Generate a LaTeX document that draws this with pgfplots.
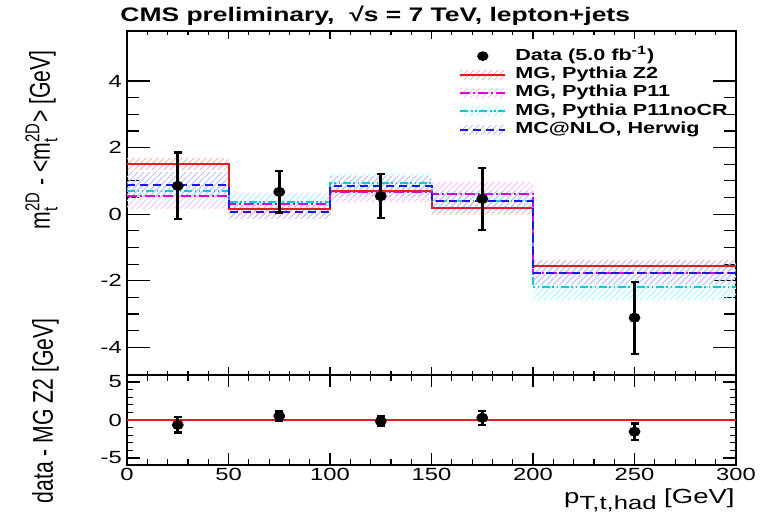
\documentclass[border=0pt]{standalone}
\usepackage{fontspec}
\setmainfont{Liberation Sans}[FakeStretch=1.35]
\newfontfamily\uprightlabel{Liberation Sans}
\usepackage{amsmath}
\usepackage{pgfplots}
\usepackage{pgfplotstable}
\pgfplotsset{compat=1.18}
\usepgfplotslibrary{fillbetween}
\usetikzlibrary{patterns}

\definecolor{rootred}{RGB}{225,30,30}
\definecolor{rootmag}{RGB}{225,0,225}
\definecolor{rootcyan}{RGB}{0,205,205}
\definecolor{rootblue}{RGB}{25,25,225}

% simulated mean shift per bin (bin low edges, last row closes the 200-300 bin)
\pgfplotstableread{
x    z2     ez2   p11    ep11  nocr   enocr  nlo    enlo
0    1.50   0.18  0.55   0.40  0.69   0.30   0.89   0.38
50   0.15   0.18  0.29   0.35  0.35   0.25   0.07   0.22
100  0.69   0.18  0.66   0.30  0.95   0.27   0.84   0.30
150  0.17   0.18  0.62   0.35  0.41   0.30   0.39   0.30
200 -1.57   0.20 -1.78   0.35 -2.20   0.38  -1.76   0.35
300 -1.57   0.20 -1.78   0.35 -2.20   0.38  -1.76   0.35
}\mctable

% data: mean shift, uncertainty, difference to MG Z2
\pgfplotstableread{
x    y      e     d
25   0.85   1.00  -0.65
75   0.67   0.62   0.52
125  0.54   0.66  -0.15
175  0.46   0.93   0.29
250 -3.11   1.08  -1.54
}\datatable

\pgfplotsset{
  rootaxis/.style={
    scale only axis, width=304.5pt,
    xmin=0, xmax=300,
    xtick={0,50,...,300}, minor x tick num=4,
    tick align=inside,
    axis line style={line width=0.6pt},
    every tick/.style={black, line width=0.6pt},
    tick label style={font=\fontsize{8.8}{9}\selectfont},
    yticklabel style={inner sep=0pt, xshift=-2.4pt},
    xticklabel style={inner sep=0pt, yshift=-1.6pt},
  },
  band/.style={draw=none, forget plot, const plot mark left},
  hatchleg/.style={legend image code/.code={
      \path[draw=none, pattern=north east lines, pattern color=#1] (0pt,-2.25pt) rectangle (22.5pt,2.25pt);
      \draw[##1] (0pt,0pt) -- (22.5pt,0pt);}},
  dataplot/.style={black, only marks, mark=*, mark size=2.3pt, forget plot,
      mark options={xscale=1.2},
      error bars/.cd, y dir=both, y explicit,
      error bar style={line width=1.4pt},
      error mark options={rotate=90, mark size=2pt, line width=1.1pt}},
}

\begin{document}
\begin{tikzpicture}
% ---------------- upper panel ----------------
\begin{axis}[rootaxis,
  at={(0,45pt)}, anchor=south west, height=172pt,
  ymin=-4.83, ymax=5.5,
  xticklabels={},
  ytick={-4,-2,0,2,4}, yticklabels={-4,-2,0,2,4}, minor y tick num=3,
  xtick style={/pgfplots/major tick length=4pt, /pgfplots/minor tick length=2pt},
  ytick style={/pgfplots/major tick length=11.5pt, /pgfplots/minor tick length=6pt},
  legend style={at={(rel axis cs:0.545,0.947)}, anchor=north west,
    draw=none, fill=none, inner sep=0pt, row sep=2.7pt, column sep=4.5pt,
    font=\fontsize{8}{9}\selectfont\bfseries,
    nodes={inner sep=0pt, text height=5.2pt, text depth=1.3pt}},
  legend cell align=left,
]
\addlegendimage{legend image code/.code={\fill[black] (11.25pt,0pt) ellipse (2.6pt and 2.2pt);}}
\addlegendentry{Data (5.0 fb$^{\text{-1}}$)}
\addlegendimage{rootred, line width=1pt, hatchleg=red!30}
\addlegendentry{MG, Pythia Z2}
\addlegendimage{rootmag, line width=1pt, dash pattern=on 5pt off 1.5pt on 1pt off 1.5pt, hatchleg=magenta!25}
\addlegendentry{MG, Pythia P11}
\addlegendimage{rootcyan, line width=1pt, dash pattern=on 4pt off 1.3pt on 0.8pt off 1.3pt on 0.8pt off 1.3pt, hatchleg=cyan!35}
\addlegendentry{MG, Pythia P11noCR}
\addlegendimage{rootblue, line width=1pt, dash pattern=on 4pt off 2.5pt, hatchleg=blue!25}
\addlegendentry{MC@NLO, Herwig}

% uncertainty bands
\addplot[band, name path=z2u] table[x=x, y expr=\thisrow{z2}+\thisrow{ez2}] {\mctable};
\addplot[band, name path=z2d] table[x=x, y expr=\thisrow{z2}-\thisrow{ez2}] {\mctable};
\addplot[pattern=north east lines, pattern color=red!30, draw=none, forget plot] fill between[of=z2u and z2d];
\addplot[band, name path=p11u] table[x=x, y expr=\thisrow{p11}+\thisrow{ep11}] {\mctable};
\addplot[band, name path=p11d] table[x=x, y expr=\thisrow{p11}-\thisrow{ep11}] {\mctable};
\addplot[pattern=north east lines, pattern color=magenta!25, draw=none, forget plot] fill between[of=p11u and p11d];
\addplot[band, name path=ncu] table[x=x, y expr=\thisrow{nocr}+\thisrow{enocr}] {\mctable};
\addplot[band, name path=ncd] table[x=x, y expr=\thisrow{nocr}-\thisrow{enocr}] {\mctable};
\addplot[pattern=north east lines, pattern color=cyan!35, draw=none, forget plot] fill between[of=ncu and ncd];
\addplot[band, name path=nlu] table[x=x, y expr=\thisrow{nlo}+\thisrow{enlo}] {\mctable};
\addplot[band, name path=nld] table[x=x, y expr=\thisrow{nlo}-\thisrow{enlo}] {\mctable};
\addplot[pattern=north east lines, pattern color=blue!25, draw=none, forget plot] fill between[of=nlu and nld];

% central predictions
\addplot[rootred, line width=1pt, const plot mark left, forget plot] table[x=x, y=z2] {\mctable};
\addplot[rootcyan, line width=1pt, const plot mark left, forget plot,
  dash pattern=on 4pt off 1.3pt on 0.8pt off 1.3pt on 0.8pt off 1.3pt] table[x=x, y=nocr] {\mctable};
\addplot[rootmag, line width=1pt, const plot mark left, forget plot,
  dash pattern=on 5pt off 1.5pt on 1pt off 1.5pt] table[x=x, y=p11] {\mctable};
\addplot[rootblue, line width=1pt, const plot mark left, forget plot,
  dash pattern=on 4pt off 2.5pt] table[x=x, y=nlo] {\mctable};

% data
\addplot[dataplot] table[x=x, y=y, y error=e] {\datatable};
\end{axis}

% ---------------- ratio panel ----------------
\begin{axis}[rootaxis,
  at={(0,0)}, anchor=south west, height=45pt,
  ymin=-5.92, ymax=5.92,
  xticklabels={0,50,100,150,200,250,300},
  ytick={-5,0,5}, yticklabels={-5,0,5}, minor y tick num=4,
  xtick style={/pgfplots/major tick length=6pt, /pgfplots/minor tick length=3pt},
  ytick style={/pgfplots/major tick length=6.3pt, /pgfplots/minor tick length=3pt},
]
\addplot[rootred, line width=1pt] coordinates {(0,0) (300,0)};
\addplot[dataplot] table[x=x, y=d, y error=e] {\datatable};
\end{axis}

% titles and axis labels
\node[anchor=base west, inner sep=0pt, font=\fontsize{9.8}{11}\selectfont\bfseries] at (-3.5pt,221.5pt)
  {CMS preliminary,\ \ √s = 7 TeV, lepton+jets};
\node[anchor=base east, inner sep=0pt, font=\fontsize{10.6}{12}\selectfont\uprightlabel, xscale=1.35, rotate=90]
  at (-38.5pt,207.5pt) {m$^{\text{2D}}_{\text{t}}$ - <m$^{\text{2D}}_{\text{t}}$> [GeV]};
\node[anchor=base east, inner sep=0pt, font=\fontsize{10.6}{12}\selectfont\uprightlabel, xscale=1.35, rotate=90]
  at (-37pt,73.5pt) {data - MG Z2 [GeV]};
\node[anchor=base east, inner sep=0pt, font=\fontsize{10.2}{12}\selectfont] at (304pt,-19pt)
  {p\raisebox{-3pt}{\fontsize{9.5}{10}\selectfont T,t,had}\ [GeV]};

\pgfresetboundingbox
\useasboundingbox (-63.5pt,-24.5pt) rectangle (321pt,232.5pt);
\end{tikzpicture}
\end{document}
